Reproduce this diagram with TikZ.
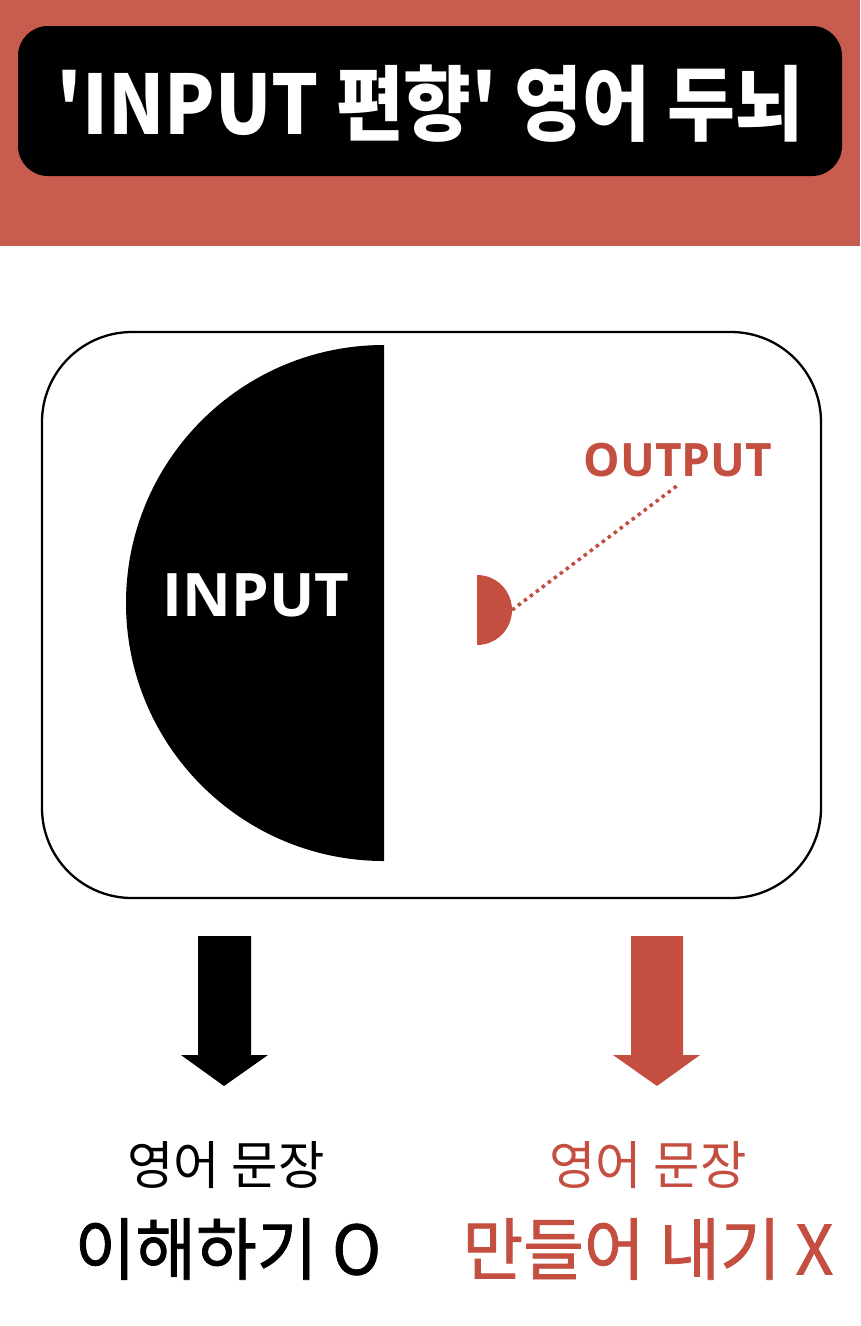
\documentclass[tikz,border=0pt]{standalone}
\usepackage{fontspec}
\setmainfont{Noto Sans CJK KR}
\newfontfamily\hangul[FakeStretch=0.9,Ligatures=TeXOff]{Noto Sans CJK KR}
\newfontfamily\coreano[FakeStretch=0.97]{Noto Sans CJK KR}
\newfontfamily\coreanomedio[FakeStretch=0.97,FakeBold=1.2]{Noto Sans CJK KR}
\newfontfamily\latino{Open Sans}
\definecolor{rosso}{RGB}{200,92,78}
\definecolor{rossoscuro}{RGB}{196,79,64}
\begin{document}
\begin{tikzpicture}[x=1pt,y=-1pt]
        %%%%%%%%%% Sfondo %%%%%%%%%%
        \useasboundingbox (0,0) rectangle (860,1326);
        \fill[white] (0,0) rectangle (860,1326);
        \fill[rosso] (0,0) rectangle (860,246);

        %%%%%%%%%% Nodi %%%%%%%%%%
        \node (TITOLO) at (430,101) [fill=black,rounded corners=30pt,minimum width=824pt,minimum height=150pt] {};
        \node (SCRITTA) at (430,104) [text=white,font=\hangul\bfseries\fontsize{82}{82}\selectfont] {'INPUT 편향' 영어 두뇌};
        \node (CERVELLO) at (431.5,615) [draw,line width=2.3pt,rounded corners=90pt,minimum width=779pt,minimum height=566pt] {};
        \fill (384,861) -- (384,345) arc[start angle=270,end angle=90,radius=258] -- cycle;
        \fill[rossoscuro] (477,645) arc[start angle=90,end angle=-90,radius=35] -- cycle;
        \coordinate (PUNTO) at (512,610);
        \node (INPUT) at (256,595) [text=white,font=\latino\bfseries\fontsize{60}{60}\selectfont] {INPUT};
        \node (OUTPUT) at (678,460) [text=rossoscuro,inner sep=8pt,font=\latino\bfseries\fontsize{46}{46}\selectfont] {OUTPUT};
        \node (FRASE1) at (226,1165) [font=\coreano\fontsize{52}{52}\selectfont] {영어 문장};
        \node (CAPIRE) at (228,1249) [font=\coreanomedio\fontsize{68}{68}\selectfont] {이해하기 O};
        \node (FRASE2) at (648,1165) [text=rossoscuro,font=\coreano\fontsize{52}{52}\selectfont] {영어 문장};
        \node (CREARE) at (648,1249) [text=rossoscuro,font=\coreanomedio\fontsize{68}{68}\selectfont] {만들어 내기 X};

        %%%%%%%%% Frecce %%%%%%%%%
        \draw[rossoscuro,line width=3.5pt,dash pattern=on 3.5pt off 4pt] (PUNTO) -- (OUTPUT.south);
        \fill (198,936) -- ++(53,0) -- ++(0,119) -- ++(17,0) -- ++(-44,31) -- ++(-43,-31) -- ++(17,0) -- cycle;
        \fill[rossoscuro] (631,936) -- ++(52,0) -- ++(0,119) -- ++(17,0) -- ++(-43,31) -- ++(-44,-31) -- ++(18,0) -- cycle;
    \end{tikzpicture}
\end{document}
